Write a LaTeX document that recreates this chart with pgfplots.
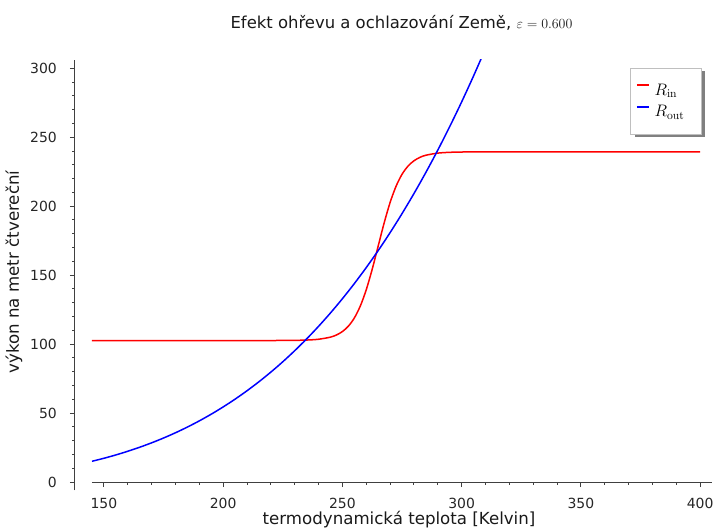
\RequirePackage{fix-cm}
\documentclass[border=0pt]{standalone}
\usepackage[no-math]{fontspec}
\setmainfont{DejaVu Sans}
\usepackage{pgfplots}
\pgfplotsset{compat=1.18}

\begin{document}
\begin{tikzpicture}
% legend shadow (drawn first, so it lies under the legend box)
\fill[black!50] (542.5bp,353.0bp) rectangle (612.7bp,419.3bp);
\begin{axis}[
  at={(0,0)}, anchor=south west,
  scale only axis, width=620bp, height=430.3bp,
  xmin=145, xmax=405, ymin=-6, ymax=306,
  axis x line=middle, axis y line=left,
  axis line style={-, black!75, line width=1bp},
  y axis line style={xshift=-17bp},
  hide obscured x ticks=false, hide obscured y ticks=false,
  xtick={150,200,...,400}, ytick={0,50,...,300},
  minor tick num=4,
  tick align=outside,
  major tick length=5bp, minor tick length=2.8bp,
  every tick/.style={black!75, line width=1bp},
  ytick style={xshift=-17bp},
  tick label style={font=\fontsize{14}{16}\selectfont, text=black!85},
  /pgf/number format/assume math mode=true,
  yticklabel style={inner sep=0pt, xshift=-30bp},
  xticklabel style={inner sep=0pt, yshift=-11bp},
  legend style={at={(axis description cs:0.9834,0.9814)}, anchor=north east,
    draw=black!25, fill=white, line width=0.8bp,
    inner xsep=5.3bp, inner ysep=15bp, row sep=6.9bp,
    font=\fontsize{16.7}{20}\selectfont,
    nodes={inner sep=0pt, text height=11.7bp, text depth=3bp},
    /tikz/every odd column/.append style={column sep=5bp}},
  legend cell align=left,
  legend image code/.code={\draw[#1] (0bp,5.5bp) -- (12bp,5.5bp);},
]
\addplot[red, line width=1.5bp, smooth] coordinates {
(145,102.60) (185,102.60) (225,102.62) (230,102.72) (235,102.94)
(240,103.52) (245,105.06) (247.5,106.61) (250,109.09) (252.5,112.98)
(255,118.91) (257.5,127.56) (260,139.39) (262.5,154.25) (265,171.00)
(267.5,187.75) (270,202.61) (272.5,214.44) (275,223.09) (277.5,229.02)
(280,232.91) (282.5,235.39) (285,236.94) (290,238.48) (295,239.06)
(300,239.28) (305,239.35) (315,239.39) (350,239.40) (400,239.40)
};
\addlegendentry{\makebox[41.4bp][l]{$R_{\mathrm{in}}$}}
\addplot[blue, line width=1.5bp, smooth] coordinates {
(145,15.04) (150,17.22) (155,19.64) (160,22.30) (165,25.22) (170,28.42)
(175,31.91) (180,35.71) (185,39.85) (190,44.34) (195,49.19) (200,54.44)
(205,60.09) (210,66.17) (215,72.70) (220,79.70) (225,87.19) (230,95.21)
(235,103.76) (240,112.88) (245,122.58) (250,132.90) (255,143.85)
(260,155.47) (265,167.78) (270,180.81) (275,194.58) (280,209.12)
(285,224.46) (290,240.63) (295,257.66) (300,275.58) (305,294.42)
(310,314.20)
};
\addlegendentry{\makebox[41.4bp][l]{$R_{\mathrm{out}}$}}
\end{axis}
\node[anchor=base, font=\fontsize{16.5}{20}\selectfont, text=black!90] at (309.5bp,462bp)
  {Efekt ohřevu a ochlazování Země, {\fontsize{14}{16}\selectfont$\varepsilon=0.600$}};
\node[anchor=base, rotate=90, font=\fontsize{16.7}{20}\selectfont, text=black!90] at (-73bp,218.3bp)
  {výkon na metr čtvereční};
\node[anchor=base, font=\fontsize{16.7}{20}\selectfont, text=black!90] at (307bp,-34.2bp)
  {termodynamická teplota [Kelvin]};
\pgfresetboundingbox
\path[use as bounding box] (-92bp,-38.7bp) rectangle (621bp,490.3bp);
\end{tikzpicture}
\end{document}
